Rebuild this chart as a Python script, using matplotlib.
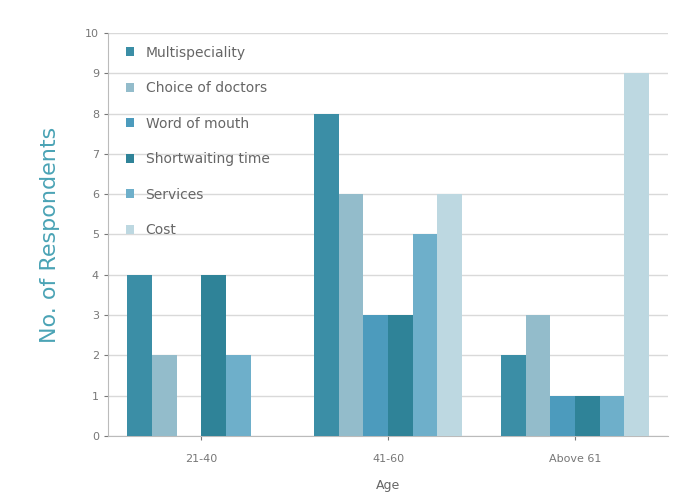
import matplotlib
matplotlib.use("Agg")
import matplotlib.pyplot as plt
import numpy as np

# Survey data
age_groups = ["21-40", "41-60", "Above 61"]
factors = ["Multispeciality", "Choice of doctors", "Word of mouth",
           "Shortwaiting time", "Services", "Cost"]
multispeciality = [4, 8, 2]
choice_of_doctors = [2, 6, 3]
word_of_mouth = [0, 3, 1]
short_waiting = [4, 3, 1]
services = [2, 5, 1]
cost = [0, 6, 9]

series = [multispeciality, choice_of_doctors, word_of_mouth,
          short_waiting, services, cost]
colors = ["#3b8ea6", "#93bccb", "#4c9bbd", "#2f8398", "#6eafca", "#bdd8e1"]

fig = plt.figure(figsize=(6.75, 5.01), dpi=100)
ax = fig.add_axes([0.16, 0.13, 0.83, 0.804])

x = np.arange(len(age_groups))
width = 0.132
for i, (vals, name) in enumerate(zip(series, factors)):
    offset = (i - 2.5) * width
    ax.bar(x + offset, vals, width, color=colors[i], label=name, zorder=3)

ax.set_xlim(-0.5, 2.5)
ax.set_ylim(0, 10)
ax.set_yticks(range(0, 11))
ax.set_xticks(x)
ax.set_xticklabels(age_groups)
ax.tick_params(axis="both", labelsize=8, colors="#777777", length=3)
ax.tick_params(axis="x", pad=10)
ax.grid(axis="y", color="#d9d9d9", linewidth=1, zorder=0)
for side in ["top", "right"]:
    ax.spines[side].set_visible(False)
ax.spines["left"].set_color("#bbbbbb")
ax.spines["bottom"].set_color("#bbbbbb")

ax.set_xlabel("Age", fontsize=9, color="#666666", labelpad=11)
ax.set_ylabel("No. of Respondents", fontsize=16, color="#4aa3b5", labelpad=18)

leg = ax.legend(loc="upper left", frameon=False, fontsize=10,
                handlelength=0.6, handleheight=0.6, labelspacing=1.55,
                bbox_to_anchor=(0.01, 1.0))
for t in leg.get_texts():
    t.set_color("#666666")

fig.savefig("out.png", dpi=100)
